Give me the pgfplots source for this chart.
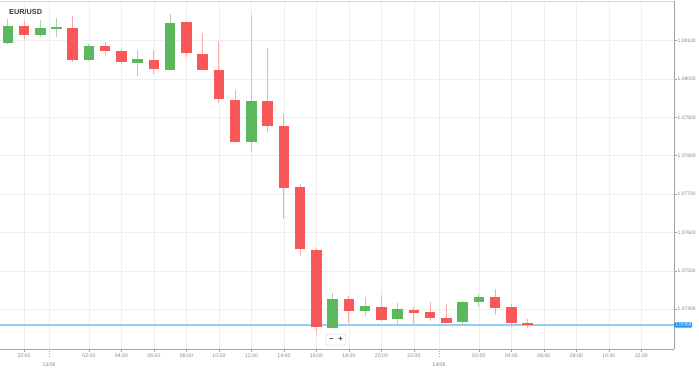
\documentclass[border=0pt]{standalone}
\usepackage{pgfplots}
\pgfplotsset{compat=1.18}
\usepackage{pgfplotstable}
\usepackage{fontspec}
\setmainfont{Liberation Sans}

\definecolor{candlered}{RGB}{250,88,88}
\definecolor{candlegreen}{RGB}{92,184,92}
\definecolor{wickred}{RGB}{252,170,170}
\definecolor{wickgreen}{RGB}{170,216,170}
\definecolor{gridgray}{RGB}{238,238,238}
\definecolor{axisgray}{RGB}{165,165,165}
\definecolor{labelgray}{RGB}{135,135,135}
\definecolor{priceblue}{RGB}{150,205,249}
\definecolor{tagblue}{RGB}{33,150,243}
\definecolor{titlegray}{RGB}{60,60,60}

% hour offset from 13/06 00:00; open high low close
\pgfplotstableread{
h open high low close
-2 1.081373 1.081519 1.081042 1.081139
1 1.081329 1.081649 1.080435 1.080487
3 1.080860 1.080972 1.080617 1.080730
4 1.080737 1.080774 1.080383 1.080435
6 1.080495 1.080756 1.080130 1.080261
8 1.081477 1.081511 1.080565 1.080677
9 1.080659 1.081199 1.080221 1.080242
10 1.080242 1.080990 1.079375 1.079471
11 1.079453 1.079726 1.078325 1.078359
13 1.079435 1.080816 1.078627 1.078775
14 1.078783 1.079080 1.076344 1.077168
15 1.077178 1.077256 1.075388 1.075563
16 1.075552 1.075605 1.073330 1.073531
18 1.074260 1.074346 1.073650 1.073963
20 1.074067 1.074364 1.073695 1.073729
22 1.073981 1.074067 1.073564 1.073895
23 1.073921 1.074182 1.073703 1.073765
24 1.073765 1.074130 1.073635 1.073650
27 1.074312 1.074528 1.073851 1.074033
28 1.074052 1.074138 1.073546 1.073650
29 1.073650 1.073747 1.073520 1.073590
}\redtab

\pgfplotstableread{
h open high low close
-3 1.080946 1.081563 1.080920 1.081389
-1 1.081146 1.081537 1.081102 1.081329
0 1.081311 1.081597 1.081102 1.081342
2 1.080503 1.080920 1.080469 1.080852
5 1.080425 1.080756 1.080078 1.080513
7 1.080242 1.081694 1.080235 1.081467
12 1.078359 1.081675 1.078106 1.079419
17 1.073520 1.074432 1.073510 1.074260
19 1.073947 1.074328 1.073833 1.074086
21 1.073739 1.074171 1.073624 1.074007
25 1.073669 1.074210 1.073583 1.074198
26 1.074190 1.074406 1.074067 1.074328
}\greentab

\begin{document}
\begin{tikzpicture}
\begin{axis}[
  at={(0pt,18pt)}, anchor=south west,
  scale only axis, width=674pt, height=347.7pt,
  xmin=-3.478, xmax=38.01, ymin=1.072965, ymax=1.082024,
  axis x line*=bottom, axis y line*=right,
  axis line style={axisgray, line width=0.8pt},
  clip=false,
  grid=major,
  major grid style={gridgray, line width=0.7pt},
  tick align=outside, major tick length=2.5pt,
  tick style={axisgray, line width=0.5pt},
  xtick={-2,2,4,6,8,10,12,14,16,18,20,22,26,28,30,32,34,36},
  xticklabels={22:00,02:00,04:00,06:00,08:00,10:00,12:00,14:00,16:00,18:00,20:00,22:00,02:00,04:00,06:00,08:00,10:00,12:00},
  extra x ticks={-0.46,23.54},
  extra x tick labels={13/06,14/06},
  extra x tick style={grid=major, major tick length=7pt, tick style={axisgray, dotted},
    xticklabel style={yshift=-4.5pt}},
  xticklabel style={font=\fontsize{5.2}{6}\selectfont, text=labelgray, anchor=north, inner sep=0pt, yshift=-2pt},
  ytick={1.074,1.075,1.076,1.077,1.078,1.079,1.080,1.081},
  yticklabels={1.07400,1.07500,1.07600,1.07700,1.07800,1.07900,1.08000,1.08100},
  yticklabel style={font=\fontsize{5}{6}\selectfont, text=labelgray, anchor=west, inner sep=0pt, xshift=1pt},
]
% current price line
\addplot[priceblue, line width=1.3pt, forget plot] coordinates {(-3.478,1.07359) (38.01,1.07359)};
% wicks
\addplot[draw=none, mark=none, forget plot,
  error bars/.cd, y dir=plus, y explicit, error mark=none,
  error bar style={draw=wickred, line width=1pt}]
  table[x=h, y=low, y error plus expr=\thisrow{high}-\thisrow{low}] {\redtab};
\addplot[draw=none, mark=none, forget plot,
  error bars/.cd, y dir=plus, y explicit, error mark=none,
  error bar style={draw=wickgreen, line width=1pt}]
  table[x=h, y=low, y error plus expr=\thisrow{high}-\thisrow{low}] {\greentab};
% bodies
\addplot[draw=none, mark=none, forget plot,
  error bars/.cd, y dir=plus, y explicit, error mark=none,
  error bar style={draw=candlered, line width=10.5pt}]
  table[x=h, y=close, y error plus expr=\thisrow{open}-\thisrow{close}] {\redtab};
\addplot[draw=none, mark=none, forget plot,
  error bars/.cd, y dir=plus, y explicit, error mark=none,
  error bar style={draw=candlegreen, line width=10.5pt}]
  table[x=h, y=open, y error plus expr=\thisrow{close}-\thisrow{open}] {\greentab};
% price tag
\node[anchor=west, fill=tagblue, text=white, rounded corners=1pt, inner sep=1pt,
  font=\fontsize{4.3}{5}\selectfont] at (axis cs:38.01,1.07359) {\hspace{0.5pt}1.07359};
% title
\node[anchor=west, inner sep=0pt, text=titlegray, font=\bfseries\fontsize{7.3}{8}\selectfont]
  at (rel axis cs:0.01335,0.9684) {EUR/USD};
% zoom buttons
\node[draw=gray!30, fill=white, rounded corners=1.5pt, inner xsep=3pt, inner ysep=1.5pt,
  text=titlegray, minimum height=11pt,
  font=\bfseries\fontsize{7.5}{7.5}\selectfont] at (rel axis cs:0.4985,0.027) {−\hspace{5pt}+};
\end{axis}
\draw[gridgray!80!gray] (0pt,365.7pt) -- (674pt,365.7pt);
\pgfresetboundingbox
\path (0,0) rectangle (699pt,367pt);
\end{tikzpicture}
\end{document}
